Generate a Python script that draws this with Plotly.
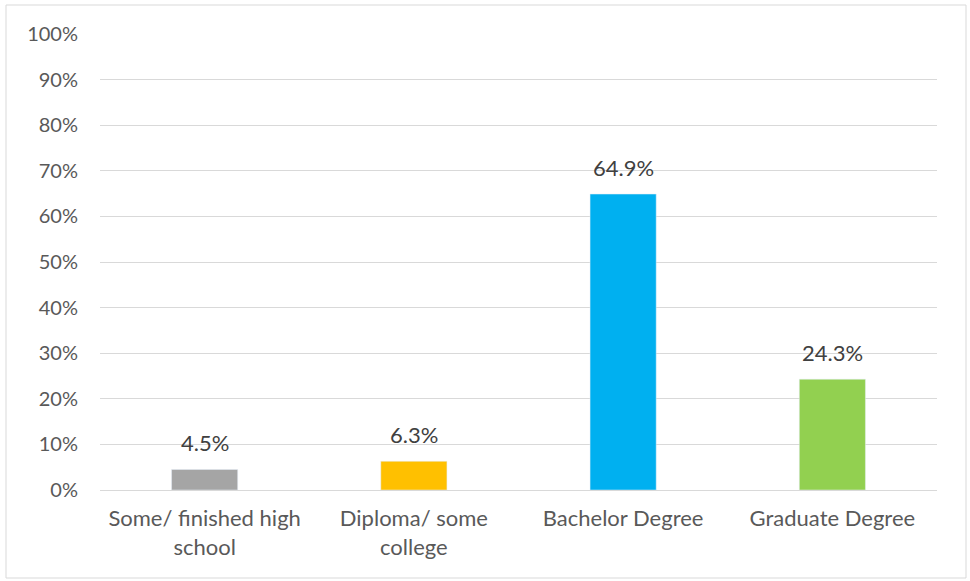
import plotly.graph_objects as go

categories = ["Some/ finished high<br>school", "Diploma/ some<br>college", "Bachelor Degree", "Graduate Degree"]
values = [0.045, 0.063, 0.649, 0.243]
labels = ["4.5%", "6.3%", "64.9%", "24.3%"]
colors = ["#A5A5A5", "#FFC000", "#00B0F0", "#92D050"]

W, H = 970, 581
L, R, T, B = 100, 33, 34, 91
FONT = "Lato"

fig = go.Figure(go.Bar(x=categories, y=values, marker_color=colors, width=0.316,
                       hoverinfo="skip"))

for c, v, t in zip(categories, values, labels):
    fig.add_annotation(x=c, y=v, text=t, showarrow=False, yanchor="bottom",
                       yshift=11, font=dict(family=FONT, size=22, color="#404040"))

pw, ph = W - L - R, H - T - B
fig.add_shape(type="rect", xref="paper", yref="paper",
              x0=(6 - L) / pw, x1=(966 - L) / pw,
              y0=(H - B - 578) / ph, y1=(H - B - 5) / ph,
              line=dict(color="#D9D9D9", width=1), layer="below")

fig.update_layout(
    width=W, height=H,
    margin=dict(l=L, r=R, t=T, b=B, autoexpand=False),
    paper_bgcolor="white", plot_bgcolor="white",
    showlegend=False,
    font=dict(family=FONT, size=20, color="#595959"),
)
fig.update_yaxes(range=[0, 1], dtick=0.1, tickformat=".0%", showgrid=True,
                 gridcolor="#D9D9D9", gridwidth=1, zeroline=False,
                 ticklabelstandoff=21, showline=False, fixedrange=True)
fig.update_xaxes(showline=True, linecolor="#D9D9D9", linewidth=1, ticks="",
                 ticklabelstandoff=9, tickfont=dict(size=22), fixedrange=True)

fig.write_html("out.html", config={"displayModeBar": False},
               post_script="document.body.style.margin='0';document.body.style.padding='0';")
